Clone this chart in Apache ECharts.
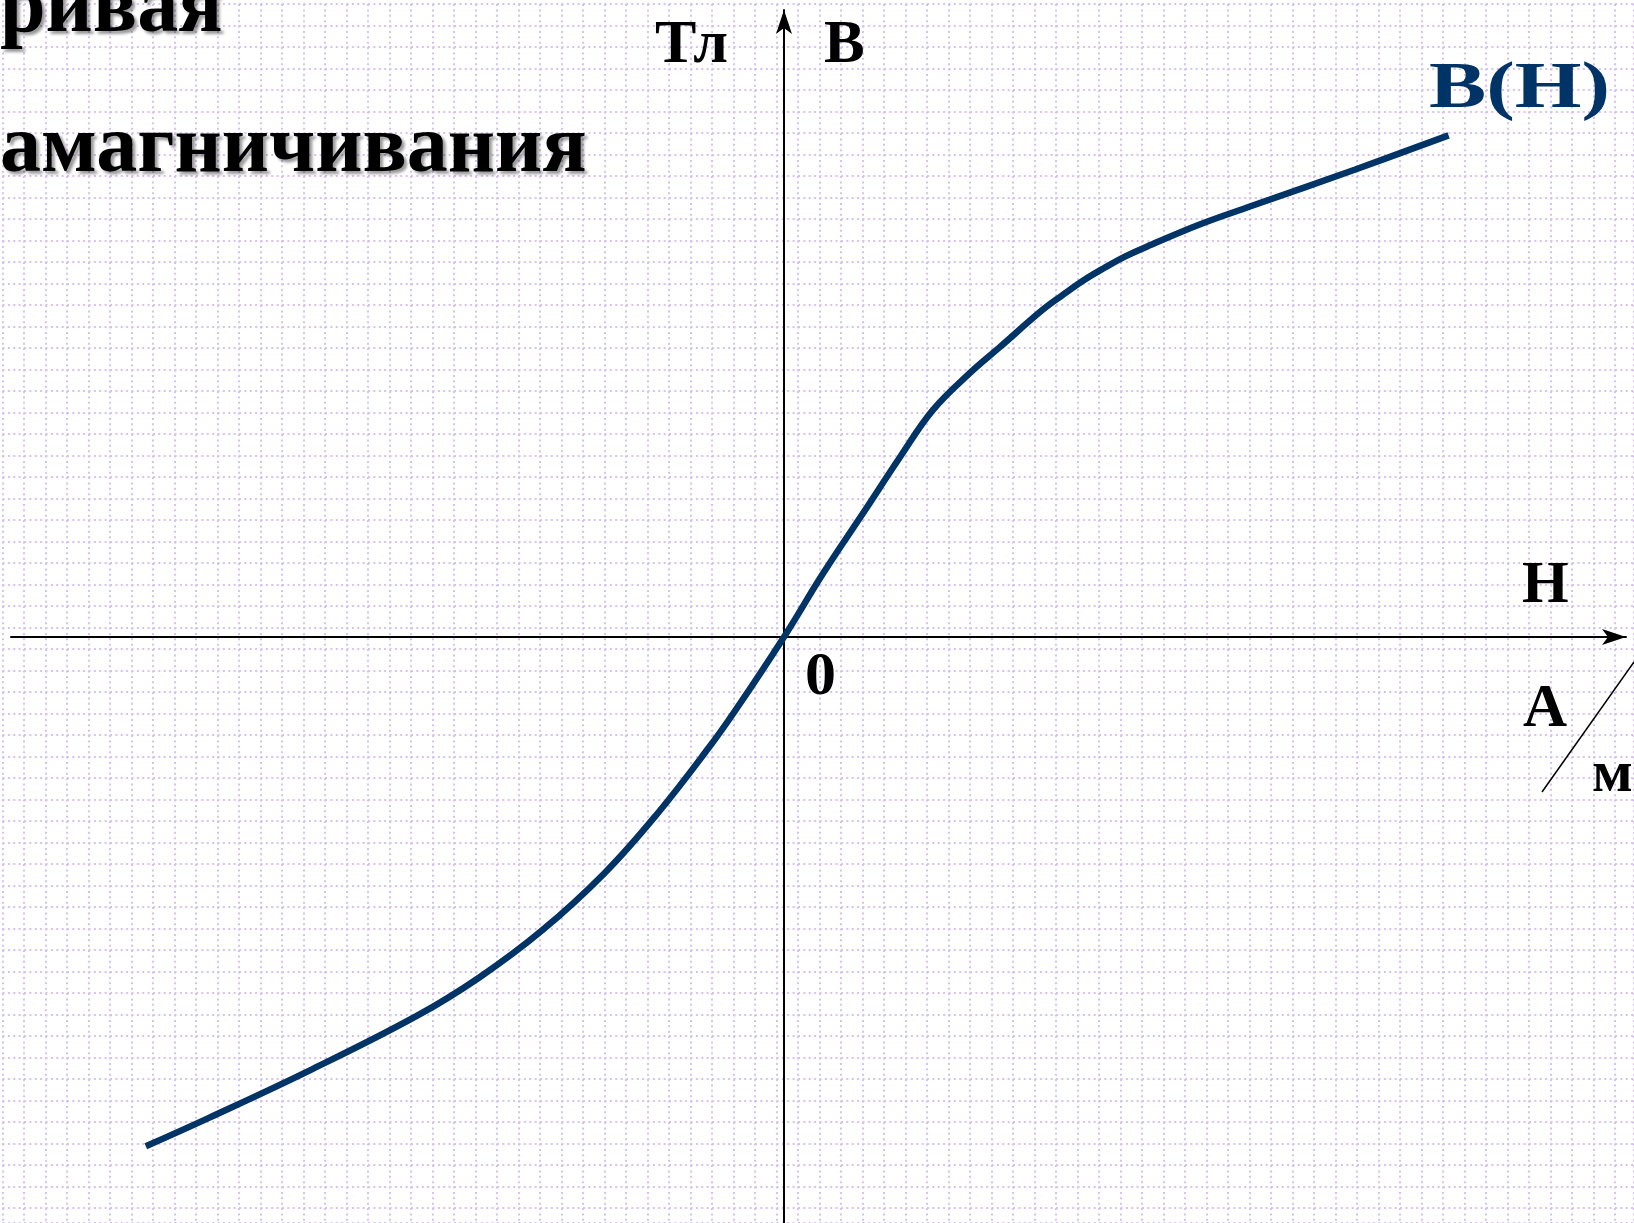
<!DOCTYPE html>
<html>
<head>
<meta charset="utf-8">
<style>
  html, body { margin: 0; padding: 0; background: #ffffff; }
  #chart { width: 1634px; height: 1223px; }
</style>
<script src="https://cdn.jsdelivr.net/npm/echarts@6/dist/echarts.min.js"></script>
</head>
<body>
<div id="chart"></div>
<script>
// Magnetization curve B(H), units: one graph-paper cell
const H = [-29.68, -26.77, -21.93, -17.08, -14.17, -11.26, -8.35, -5.93, -3.51, -2.25, 0,
           1.83, 3.76, 5.40, 6.93, 8.65, 10.05, 12.00, 12.97, 13.94, 14.91, 15.88, 16.85,
           19.27, 21.70, 26.54, 30.91];
const B = [-23.69, -22.38, -20.10, -17.63, -15.84, -13.66, -10.99, -8.27, -5.17, -3.40, 0,
           2.97, 5.88, 8.37, 10.56, 12.28, 13.49, 15.19, 15.91, 16.59, 17.17, 17.70, 18.14,
           19.16, 20.03, 21.73, 23.33];

const titleLines = ['ривая', 'амагничивания'];
const seriesName = 'B(H)';
const labelB = 'В';
const labelBUnit = 'Тл';
const labelH = 'Н';
const labelHUnitTop = 'А';
const labelHUnitBottom = 'м';
const labelOrigin = '0';
const curveLabel = 'В(Н)';

const points = H.map((h, i) => [h, B[i]]);

const serif = '"Liberation Serif", "Times New Roman", serif';
const bgDot = '#d6c2ee';

const chart = echarts.init(document.getElementById('chart'), null, { renderer: 'canvas' });

function txt(text, x, y, size, color, extra) {
  return Object.assign({
    type: 'text', x: x, y: y, z: 100,
    style: {
      text: text, fill: color, fontSize: size, fontFamily: serif, fontWeight: 'bold',
      align: 'left', verticalAlign: 'middle'
    }
  }, extra || {});
}

const titleShadow = {
  textShadowColor: 'rgba(0,0,0,0.4)', textShadowBlur: 3,
  textShadowOffsetX: 3, textShadowOffsetY: 3
};

const t1 = txt(titleLines[0], 0, 10, 82, '#000');
Object.assign(t1.style, titleShadow);
const t2 = txt(titleLines[1], 0, 150, 82, '#000');
Object.assign(t2.style, titleShadow);

chart.setOption({
  animation: false,
  backgroundColor: '#ffffff',
  grid: [
    { left: 11, right: 8, top: 10, bottom: 0, containLabel: false },
    { left: 2.5, right: 0, top: 4, bottom: 0, containLabel: false, z: -10 }
  ],
  xAxis: [
    {
      type: 'value', gridIndex: 0, min: -35.95, max: 39.16,
      axisLine: { show: true, onZero: true, symbol: ['none', 'arrow'], symbolSize: [12, 24],
                  lineStyle: { color: '#000', width: 2 } },
      axisTick: { show: false }, axisLabel: { show: false }, splitLine: { show: false }
    },
    {
      type: 'value', gridIndex: 1, min: 0, max: 75.88, interval: 1, z: -10,
      axisLine: { show: false }, axisTick: { show: false }, axisLabel: { show: false },
      splitLine: { show: true, lineStyle: { color: bgDot, width: 2, type: [2, 3.375] } }
    }
  ],
  yAxis: [
    {
      type: 'value', gridIndex: 0, min: -27.26, max: 29.16,
      axisLine: { show: true, onZero: true, symbol: ['none', 'arrow'], symbolSize: [12, 24],
                  lineStyle: { color: '#000', width: 2 } },
      axisTick: { show: false }, axisLabel: { show: false }, splitLine: { show: false }
    },
    {
      type: 'value', gridIndex: 1, min: 0, max: 56.7, interval: 1, inverse: true, z: -10,
      axisLine: { show: false }, axisTick: { show: false }, axisLabel: { show: false },
      splitLine: { show: true, lineStyle: { color: bgDot, width: 2, type: [2, 3.375] } }
    }
  ],
  series: [
    {
      name: seriesName, type: 'line', xAxisIndex: 0, yAxisIndex: 0,
      data: points, smooth: 0.4, showSymbol: false, symbol: 'none', clip: false, z: 5,
      lineStyle: { color: '#003366', width: 6.5, cap: 'butt' }
    }
  ],
  graphic: [
    t1, t2,
    txt(labelBUnit, 655, 46, 62, '#000'),
    txt(labelB, 824, 46, 61, '#000'),
    txt(curveLabel, 1429, 89.5, 66, '#003366', { scaleX: 1.3 }),
    txt(labelH, 1522, 586, 60, '#000'),
    txt(labelHUnitTop, 1523, 710, 61, '#000'),
    txt(labelHUnitBottom, 1592, 775, 60, '#000'),
    txt(labelOrigin, 805, 678, 62, '#000'),
    { type: 'line', z: 100, shape: { x1: 1542, y1: 792, x2: 1634, y2: 662 },
      style: { stroke: '#000', lineWidth: 1.5 } }
  ]
});
</script>
</body>
</html>
